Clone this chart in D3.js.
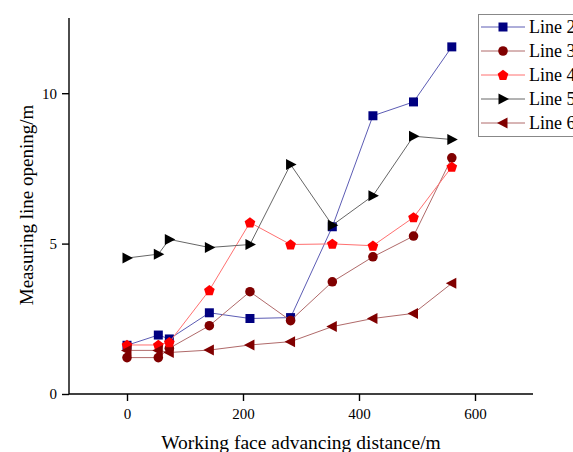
<!DOCTYPE html>
<html>
<head>
<meta charset="utf-8">
<script src="https://cdn.jsdelivr.net/npm/d3@7/dist/d3.min.js"></script>
<style>
  body { margin: 0; background: #fff; }
  svg { display: block; font-family: "Liberation Serif", "DejaVu Serif", serif; }
</style>
</head>
<body>
<svg id="chart" width="573" height="452"></svg>
<script>
// distance along the working face (m)
var distance = [0, 54, 73, 142, 212, 282, 354, 424, 494, 560];

var line2 = [1.62, 1.96, 1.83, 2.70, 2.51, 2.54, 5.56, 9.25, 9.71, 11.54];
var line3 = [1.21, 1.21, 1.52, 2.27, 3.40, 2.44, 3.73, 4.56, 5.25, 7.85];
var line4 = [1.63, 1.63, 1.72, 3.45, 5.70, 4.97, 4.99, 4.93, 5.87, 7.55];
var line5 = [4.52, 4.65, 5.14, 4.87, 4.97, 7.63, 5.61, 6.59, 8.57, 8.46];
var line6 = [1.45, 1.45, 1.38, 1.46, 1.63, 1.74, 2.24, 2.51, 2.68, 3.68];

var seriesNames = ["Line 2", "Line 3", "Line 4", "Line 5", "Line 6"];
var xTicks = [0, 200, 400, 600];
var yTicks = [0, 5, 10];

var series = [
  { name: seriesNames[0], values: line2, marker: "square",  fill: "#000080", stroke: "#5c5cb4" },
  { name: seriesNames[1], values: line3, marker: "circle",  fill: "#800000", stroke: "#b06a6a" },
  { name: seriesNames[2], values: line4, marker: "pentagon", fill: "#ff0000", stroke: "#ff7070" },
  { name: seriesNames[3], values: line5, marker: "right",   fill: "#000000", stroke: "#666666" },
  { name: seriesNames[4], values: line6, marker: "left",    fill: "#800000", stroke: "#b06a6a" }
];

var svg = d3.select("#chart");

var x = d3.scaleLinear().domain([-100, 700]).range([69, 533]);
var y = d3.scaleLinear().domain([0, 12.5]).range([394, 18]);

// axes
var xAxis = svg.append("g").attr("transform", "translate(0," + y(0) + ")");
xAxis.call(d3.axisBottom(x).tickValues([-100, 100, 300, 500, 700]).tickSize(4).tickFormat(""));
xAxis.call(d3.axisBottom(x).tickValues(xTicks).tickSize(7).tickFormat(d3.format("d")));
xAxis.selectAll(".domain").attr("d", "M" + x(-100) + ",0H" + x(700));

var yAxis = svg.append("g").attr("transform", "translate(" + x(-100) + ",0)");
yAxis.call(d3.axisLeft(y).tickValues([2.5, 7.5, 12.5]).tickSize(4).tickFormat(""));
yAxis.call(d3.axisLeft(y).tickValues(yTicks).tickSize(7).tickPadding(5).tickFormat(d3.format("d")));
yAxis.selectAll(".domain").attr("d", "M0," + y(12.5) + "V" + y(0));

svg.selectAll(".domain, .tick line").attr("stroke", "#000").attr("stroke-width", 1.4);
svg.selectAll(".tick text")
  .attr("font-family", "Liberation Serif, serif")
  .attr("font-size", 15)
  .attr("fill", "#000");
xAxis.selectAll(".tick text").attr("dy", "0.97em");

// axis titles
svg.append("text")
  .attr("x", 301).attr("y", 449)
  .attr("text-anchor", "middle")
  .attr("font-size", 19.5)
  .text("Working face advancing distance/m");

svg.append("text")
  .attr("transform", "translate(33,205) rotate(-90)")
  .attr("text-anchor", "middle")
  .attr("font-size", 19)
  .text("Measuring line opening/m");

function markerPath(type) {
  if (type === "square") return "M-4.5,-4.5H4.5V4.5H-4.5Z";
  if (type === "right") return "M-4.5,-5.5L6,0L-4.5,5.5Z";
  if (type === "left") return "M4.5,-5.5L-6,0L4.5,5.5Z";
  if (type === "pentagon") {
    var pts = d3.range(5).map(function(i) {
      var a = -Math.PI / 2 + i * 2 * Math.PI / 5;
      return [5.6 * Math.cos(a), 5.6 * Math.sin(a) + 0.4];
    });
    return "M" + pts.join("L") + "Z";
  }
  return d3.symbol(d3.symbolCircle, 72)();
}

var line = d3.line()
  .x(function(d, i) { return x(distance[i]); })
  .y(function(d) { return y(d); });

series.forEach(function(s) {
  var g = svg.append("g");
  g.append("path")
    .datum(s.values)
    .attr("d", line)
    .attr("fill", "none")
    .attr("stroke", s.stroke)
    .attr("stroke-width", 1);
  g.selectAll("path.pt")
    .data(s.values)
    .enter().append("path")
    .attr("class", "pt")
    .attr("transform", function(d, i) { return "translate(" + x(distance[i]) + "," + y(d) + ")"; })
    .attr("d", markerPath(s.marker))
    .attr("fill", s.fill);
});

// legend (runs off the right edge, as in the original figure)
var legend = svg.append("g");
legend.append("rect")
  .attr("x", 478.5).attr("y", 14.5)
  .attr("width", 120).attr("height", 122)
  .attr("fill", "#fff")
  .attr("stroke", "#888")
  .attr("stroke-width", 1);

series.forEach(function(s, i) {
  var ly = 27 + i * 24;
  legend.append("line")
    .attr("x1", 481).attr("x2", 525)
    .attr("y1", ly).attr("y2", ly)
    .attr("stroke", s.stroke).attr("stroke-width", 1);
  legend.append("path")
    .attr("transform", "translate(503," + ly + ")")
    .attr("d", markerPath(s.marker))
    .attr("fill", s.fill);
  legend.append("text")
    .attr("x", 529).attr("y", ly + 6)
    .attr("font-size", 18)
    .text(s.name);
});
</script>
</body>
</html>
